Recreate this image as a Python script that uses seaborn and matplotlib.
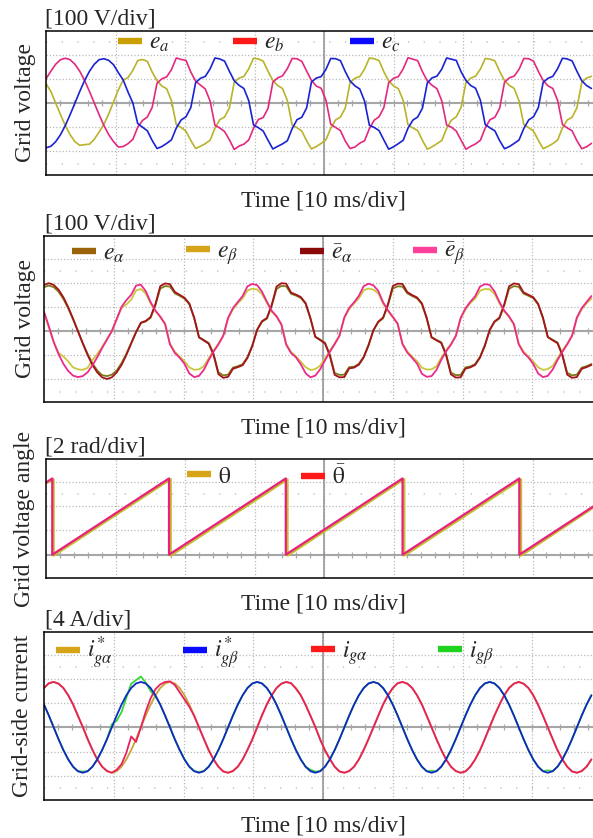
import numpy as np
import pandas as pd
import matplotlib
matplotlib.use("Agg")
import matplotlib.pyplot as plt
import seaborn as sns
from matplotlib.lines import Line2D
from matplotlib.legend import Legend

# ------------------------------------------------------------------ data
# scope sample spacing: 15 electrical degrees of a 60 Hz grid, in ms
SAMPLE_MS = 1000.0 / 60.0 / 24.0

# panel 1: grid phase voltages [V]
e_a = [80, 48, 0, -48, -93, -131, -160, -175, -172, -170, -150, -120, -88, -45, 5, 55, 95, 105, 135, 175,
       180, 172, 128, 92, 70, 59, 9, -90, -101, -117, -155, -188, -179, -168, -154, -104, -69, -58, -20, 86,
       103, 110, 141, 185, 182, 173, 131, 93, 72, 60, 10, -91, -102, -116, -156, -190, -180, -167, -152, -104,
       -70, -58, -21, 85, 102, 109, 140, 186, 183, 175, 129, 91, 71, 59, 11, -90, -103, -114, -155, -191,
       -181, -168, -155, -105, -71, -57, -18, 84, 103, 111, 140, 184, 181, 174, 130, 92, 73, 60, 9, -90,
       -102, -116, -154, -189, -179, -168, -153, -103, -70, -59, -20, 85, 103, 110]
e_b = [100, 131, 160, 179, 185, 179, 160, 131, 93, 48, 0, -48, -93, -131, -160, -182, -180, -168, -150, -100,
       -72, -58, -18, 82, 100, 108, 138, 186, 180, 176, 128, 90, 74, 58, 8, -92, -103, -118, -152, -192,
       -178, -170, -153, -104, -68, -60, -22, 86, 104, 112, 142, 184, 183, 172, 132, 93, 70, 61, 12, -88,
       -101, -114, -157, -188, -182, -166, -156, -106, -71, -57, -19, 84, 102, 109, 141, 187, 181, 175, 129, 91,
       73, 59, 9, -91, -100, -116, -154, -191, -179, -169, -154, -103, -69, -59, -21, 86, 104, 111, 139, 184,
       183, 173, 131, 93, 71, 60, 11, -89, -103, -115, -156, -189, -181, -167]
e_c = [-185, -179, -160, -131, -93, -48, 0, 48, 93, 131, 160, 179, 183, 176, 158, 125, 95, 45, 0, -85,
       -100, -115, -155, -188, -180, -167, -152, -103, -70, -57, -19, 84, 102, 110, 141, 186, 182, 173, 131, 92,
       73, 60, 10, -91, -102, -116, -154, -190, -179, -169, -156, -106, -69, -59, -20, 87, 103, 109, 139, 184,
       183, 175, 130, 91, 71, 58, 8, -92, -101, -114, -153, -191, -181, -168, -154, -104, -71, -58, -21, 83,
       104, 111, 140, 186, 181, 176, 129, 93, 72, 61, 11, -89, -103, -115, -156, -189, -180, -167, -153, -105,
       -70, -57, -19, 85, 102, 110, 142, 185, 182, 174, 131, 92, 72, 60]

# panel 2: alpha-beta voltages [V]
e_alpha = [182, 188, 182, 163, 133, 94, 49, 0, -49, -94, -133, -163, -182, -186, -180, -163, -133, -94, -49, -4,
           33, 40, 55, 107, 176, 186, 184, 156, 146, 134, 111, 53, -25, -37, -49, -94, -170, -183, -180, -151,
           -145, -137, -107, -59, 5, 39, 51, 104, 174, 187, 185, 154, 147, 137, 113, 51, -23, -35, -48, -97,
           -173, -181, -180, -149, -147, -135, -105, -56, 3, 37, 53, 107, 176, 185, 184, 156, 145, 135, 112, 52,
           -25, -36, -46, -95, -171, -182, -181, -150, -146, -136, -106, -58, 4, 38, 52, 106, 175, 186, 183, 155,
           146, 136, 110, 53, -24, -36, -47, -96, -172, -183, -180, -151, -145, -136]
e_beta = [72, 15, -45, -90, -105, -125, -150, -158, -160, -152, -120, -95, -65, -33, 0, 48, 95, 110, 130, 168, 174,
          155, 115, 82, 58, 28, -52, -85, -105, -125, -150, -160, -158, -145, -112, -80, -52, -18, 52, 90, 115,
          135, 168, 175, 172, 153, 117, 80, 59, 26, -53, -86, -104, -127, -149, -161, -157, -143, -113, -81, -51,
          -17, 54, 91, 114, 136, 169, 176, 171, 156, 114, 83, 57, 29, -51, -84, -106, -124, -151, -159, -158,
          -146, -111, -79, -53, -19, 51, 89, 116, 134, 167, 174, 173, 154, 116, 81, 58, 27, -52, -85, -105,
          -126, -150, -160, -157, -144, -112, -80, -52, -18, 53, 90, 115, 135]
e_alpha_bar = [191, 198, 191, 171, 140, 99, 51, 0, -51, -99, -140, -171, -191, -198, -191, -171, -140, -99, -51, -5,
               35, 42, 58, 112, 186, 197, 194, 162, 150, 138, 114, 56, -26, -39, -52, -98, -178, -193, -189, -156,
               -149, -141, -111, -62, 6, 41, 54, 108, 184, 198, 196, 159, 151, 141, 116, 54, -24, -37, -51, -101,
               -181, -191, -190, -154, -151, -139, -109, -59, 4, 39, 56, 111, 186, 196, 195, 161, 149, 139, 115, 55,
               -26, -38, -49, -99, -179, -192, -191, -155, -150, -140, -110, -61, 5, 40, 55, 110, 185, 197, 194, 160,
               150, 140, 113, 56, -25, -38, -50, -100, -180, -193, -190, -156, -149, -140]
e_beta_bar = [80, 20, -45, -95, -135, -165, -184, -190, -186, -170, -142, -108, -70, -35, 0, 50, 100, 128, 150, 188, 192,
              165, 120, 85, 60, 30, -55, -90, -110, -135, -175, -190, -185, -160, -120, -85, -55, -20, 55, 95, 120,
              145, 185, 195, 190, 163, 122, 84, 62, 28, -56, -91, -108, -137, -174, -191, -184, -158, -121, -86, -54,
              -19, 57, 96, 119, 146, 186, 196, 189, 166, 119, 86, 59, 31, -54, -89, -111, -134, -176, -189, -186,
              -161, -119, -84, -56, -21, 54, 94, 121, 144, 184, 194, 191, 164, 121, 85, 61, 29, -55, -90, -109,
              -136, -175, -190, -185, -159, -120, -86, -55, -20, 56, 95, 120, 145]

# panel 3: grid voltage angle [rad]
theta_t = [0.0, 1.1, 1.1, 17.95, 17.95, 34.75, 34.75, 51.55, 51.55, 68.35, 68.35, 78.7]
theta = [5.88, 6.2, -0.08, 6.22, -0.08, 6.2, -0.08, 6.22, -0.08, 6.2, -0.08, 3.85]
theta_bar_t = [0.0, 0.9, 0.9, 17.7, 17.7, 34.5, 34.5, 51.3, 51.3, 68.1, 68.1, 78.7]
theta_bar = [5.94, 6.28, 0.0, 6.28, 0.0, 6.28, 0.0, 6.28, 0.0, 6.28, 0.0, 3.96]

# panel 4: grid-side currents [A]
i_ga_ref = [6.5, 7.25, 7.5, 7.25, 6.5, 5.3, 3.75, 1.95, 0.0, -1.95, -3.75, -5.3, -6.5, -7.25, -7.5, -7.25, -6.5, -5.3, -3.75, -1.95, 0.0, 1.95, 3.75, 5.3,
            6.5, 7.25, 7.5, 7.25, 6.5, 5.3, 3.75, 1.95, 0.0, -1.95, -3.75, -5.3, -6.5, -7.25, -7.5, -7.25, -6.5, -5.3, -3.75, -1.95, 0.0, 1.95, 3.75, 5.3,
            6.5, 7.25, 7.5, 7.25, 6.5, 5.3, 3.75, 1.95, 0.0, -1.95, -3.75, -5.3, -6.5, -7.25, -7.5, -7.25, -6.5, -5.3, -3.75, -1.95, 0.0, 1.95, 3.75, 5.3,
            6.5, 7.25, 7.5, 7.25, 6.5, 5.3, 3.75, 1.95, 0.0, -1.95, -3.75, -5.3, -6.5, -7.25, -7.5, -7.25, -6.5, -5.3, -3.75, -1.95, 0.0, 1.95, 3.75, 5.3,
            6.5, 7.25, 7.5, 7.25, 6.5, 5.3, 3.75, 1.95, 0.0, -1.95, -3.75, -5.3, -6.5, -7.25, -7.5, -7.25, -6.5, -5.3]
i_gb_ref = [3.75, 1.95, 0.0, -1.95, -3.75, -5.3, -6.5, -7.25, -7.5, -7.25, -6.5, -5.3, -3.75, -1.95, 0.0, 1.95, 3.75, 5.3, 6.5, 7.25, 7.5, 7.25, 6.5, 5.3,
            3.75, 1.95, 0.0, -1.95, -3.75, -5.3, -6.5, -7.25, -7.5, -7.25, -6.5, -5.3, -3.75, -1.95, 0.0, 1.95, 3.75, 5.3, 6.5, 7.25, 7.5, 7.25, 6.5, 5.3,
            3.75, 1.95, 0.0, -1.95, -3.75, -5.3, -6.5, -7.25, -7.5, -7.25, -6.5, -5.3, -3.75, -1.95, 0.0, 1.95, 3.75, 5.3, 6.5, 7.25, 7.5, 7.25, 6.5, 5.3,
            3.75, 1.95, 0.0, -1.95, -3.75, -5.3, -6.5, -7.25, -7.5, -7.25, -6.5, -5.3, -3.75, -1.95, 0.0, 1.95, 3.75, 5.3, 6.5, 7.25, 7.5, 7.25, 6.5, 5.3,
            3.75, 1.95, 0.0, -1.95, -3.75, -5.3, -6.5, -7.25, -7.5, -7.25, -6.5, -5.3, -3.75, -1.95, 0.0, 1.95, 3.75, 5.3]
i_ga = [6.5, 7.3, 7.5, 7.2, 6.5, 5.3, 3.8, 1.9, 0.1, -1.9, -3.7, -5.3, -6.5, -7.2, -7.5, -7.0, -6.1, -4.2, -1.5, -2.4, 0.0, 2.6, 4.8, 6.3,
        7.1, 7.5, 7.6, 7.0, 5.8, 4.6, 3.4, 1.9, 0.0, -1.9, -3.8, -5.3, -6.5, -7.3, -7.5, -7.2, -6.5, -5.3, -3.7, -2.0, 0.0, 2.0, 3.8, 5.3,
        6.5, 7.2, 7.5, 7.3, 6.4, 5.3, 3.7, 1.9, 0.1, -2.0, -3.8, -5.2, -6.5, -7.3, -7.5, -7.2, -6.5, -5.3, -3.7, -1.9, 0.0, 1.9, 3.8, 5.3,
        6.5, 7.3, 7.5, 7.2, 6.5, 5.3, 3.8, 1.9, 0.0, -1.9, -3.7, -5.3, -6.5, -7.2, -7.5, -7.3, -6.5, -5.3, -3.8, -1.9, 0.1, 2.0, 3.7, 5.3,
        6.5, 7.2, 7.5, 7.2, 6.5, 5.3, 3.7, 1.9, 0.0, -1.9, -3.8, -5.3, -6.5, -7.3, -7.5, -7.2, -6.5, -5.3]
i_gb = [3.75, 1.95, 0.0, -1.95, -3.75, -5.3, -6.5, -7.25, -7.3, -7.25, -6.5, -5.3, -3.75, -1.95, 0.5, 1.1, 2.5, 4.9, 7.2, 7.8, 8.4, 7.4, 6.0, 5.1,
        3.8, 1.9, 0.0, -2.0, -3.7, -5.3, -6.5, -7.2, -7.4, -7.2, -6.5, -5.3, -3.75, -1.95, 0.0, 1.95, 3.75, 5.3, 6.5, 7.25, 7.5, 7.25, 6.5, 5.3,
        3.75, 1.95, 0.0, -1.95, -3.75, -5.3, -6.5, -7.0, -7.3, -7.25, -6.5, -5.3, -3.75, -1.95, 0.0, 1.95, 3.75, 5.3, 6.5, 7.25, 7.5, 7.25, 6.5, 5.3,
        3.75, 1.95, 0.0, -1.95, -3.75, -5.3, -6.5, -7.25, -7.2, -7.25, -6.5, -5.3, -3.75, -1.95, 0.0, 1.95, 3.75, 5.3, 6.5, 7.25, 7.5, 7.25, 6.5, 5.3,
        3.75, 1.95, 0.0, -1.95, -3.75, -5.3, -6.5, -7.25, -7.1, -7.25, -6.5, -5.3, -3.75, -1.95, 0.0, 1.95, 3.75, 5.3]

# ------------------------------------------------------------------ style
sns.set_style("white")
plt.rcParams["font.family"] = ["Liberation Serif", "DejaVu Serif"]
plt.rcParams["mathtext.fontset"] = "stix"

W, H = 593, 838
FS = 17
XMAX = 78.7
fig = plt.figure(figsize=(W / 100, H / 100), dpi=100)


def make_axes(left, top, bottom):
    return fig.add_axes([left / W, 1 - bottom / H, (W - left) / W, (bottom - top) / H])


def scope_style(ax, ylim, div):
    ax.set_xlim(0, XMAX)
    ax.set_ylim(*ylim)
    ax.set_xticks(np.arange(10, 71, 10))
    lo, hi = int(np.ceil(ylim[0] / div)), int(np.floor(ylim[1] / div))
    ax.set_yticks([k * div for k in range(lo, hi + 1) if k != 0])
    ax.tick_params(axis="both", length=0, labelbottom=False, labelleft=False)
    ax.set_xlabel("")
    ax.set_ylabel("")
    ax.set_axisbelow(True)
    ax.grid(True, color="#b9b9b9", lw=0.9, ls=(0, (1, 1.6)))
    for yv in (2.5 * div, -2.5 * div):
        if ylim[0] < yv < ylim[1]:
            ax.axhline(yv, color="#c0c0c0", lw=1.1, ls=(0, (0.8, 9.5)), zorder=0.5)
    ax.axhline(0, color="#a6a6a6", lw=1.5, zorder=1)
    ax.axvline(40, color="#909090", lw=1.1, zorder=1)
    frac = (0 - ylim[0]) / (ylim[1] - ylim[0])
    sec = ax.secondary_xaxis(frac)
    sec.set_xticks(np.arange(2, 79, 2))
    sec.tick_params(direction="inout", length=5, width=0.9, color="#a6a6a6",
                    labelbottom=False, labeltop=False)
    for s in sec.spines.values():
        s.set_visible(False)
    for s in ("top", "left", "bottom"):
        ax.spines[s].set_color("black")
        ax.spines[s].set_linewidth(1.1)
    ax.spines["right"].set_visible(False)


def legend_entry(ax, color, label, x_px, y_px):
    handle = Line2D([], [], color=color, lw=4.6, solid_capstyle="butt")
    leg = Legend(ax, [handle], [label], loc="center left",
                 bbox_to_anchor=(x_px / W, 1 - y_px / H), bbox_transform=fig.transFigure,
                 frameon=False, borderpad=0, borderaxespad=0, handlelength=1.0,
                 handletextpad=0.3, fontsize=FS)
    ax.add_artist(leg)


def panel_text(ax_left, top, bottom, unit, ylab, ylab_x=25):
    fig.text(45 / W, 1 - (top - 7) / H, unit, ha="left", va="baseline", fontsize=FS)
    fig.text(323 / W, 1 - (bottom + 31) / H, "Time [10 ms/div]", ha="center", va="baseline", fontsize=FS)
    fig.text(ylab_x / W, 1 - ((top + bottom) / 2) / H, ylab, rotation=90, ha="center", va="center", fontsize=FS)


def long_frame(t, series):
    return pd.concat([pd.DataFrame({"t": t, "v": v, "trace": name}) for name, v in series.items()],
                     ignore_index=True)


# ------------------------------------------------------------------ panel 1
ax1 = make_axes(46, 31, 175)
t1 = np.arange(len(e_a)) * SAMPLE_MS
df1 = long_frame(t1, {"ea": e_a, "eb": e_b, "ec": e_c})
sns.lineplot(data=df1, x="t", y="v", hue="trace", hue_order=["ea", "eb", "ec"],
             palette={"ea": "#b9b32a", "eb": "#e4287e", "ec": "#1a22d2"},
             estimator=None, sort=False, lw=1.2, legend=False, ax=ax1)
scope_style(ax1, (-297.5, 297.5), 100)
panel_text(ax1, 31, 175, "[100 V/div]", "Grid voltage")
legend_entry(ax1, "#c9a000", "$e_a$", 118, 43.5)
legend_entry(ax1, "#ff1a1a", "$e_b$", 233, 43.5)
legend_entry(ax1, "#0a0aff", "$e_c$", 350, 43.5)

# ------------------------------------------------------------------ panel 2
ax2 = make_axes(44, 236, 402)
t2 = np.arange(len(e_alpha)) * SAMPLE_MS
df2 = long_frame(t2, {"ealpha": e_alpha, "ebeta": e_beta, "ealpha_bar": e_alpha_bar, "ebeta_bar": e_beta_bar})
sns.lineplot(data=df2, x="t", y="v", hue="trace",
             hue_order=["ealpha", "ebeta", "ealpha_bar", "ebeta_bar"],
             palette={"ealpha": "#7c7a18", "ebeta": "#c9c83a", "ealpha_bar": "#a3141c", "ebeta_bar": "#ec2a8c"},
             estimator=None, sort=False, lw=1.3, legend=False, ax=ax2)
scope_style(ax2, (-293, 393), 100)
panel_text(ax2, 236, 402, "[100 V/div]", "Grid voltage")
legend_entry(ax2, "#9c6208", r"$e_\alpha$", 72, 254)
legend_entry(ax2, "#d6a419", r"$e_\beta$", 186, 254)
legend_entry(ax2, "#8a0a0a", r"$\bar{e}_\alpha$", 300, 254)
legend_entry(ax2, "#ff3f9c", r"$\bar{e}_\beta$", 413, 254)

# ------------------------------------------------------------------ panel 3
ax3 = make_axes(46, 459, 578)
df3 = pd.concat([pd.DataFrame({"t": theta_t, "v": theta, "trace": "theta"}),
                 pd.DataFrame({"t": theta_bar_t, "v": theta_bar, "trace": "theta_bar"})],
                ignore_index=True)
sns.lineplot(data=df3, x="t", y="v", hue="trace", hue_order=["theta", "theta_bar"],
             palette={"theta": "#c2c02e", "theta_bar": "#e8207c"},
             estimator=None, sort=False, lw=1.6, legend=False, ax=ax3)
scope_style(ax3, (-1.92, 7.88), 2)
panel_text(ax3, 459, 578, "[2 rad/div]", "Grid voltage angle")
legend_entry(ax3, "#d6a419", r"$\mathrm{\theta}$", 187, 477)
legend_entry(ax3, "#ff1a1a", r"$\bar{\mathrm{\theta}}$", 301, 477)

# ------------------------------------------------------------------ panel 4
ax4 = make_axes(44, 632, 800)
t4 = np.arange(len(i_ga_ref)) * SAMPLE_MS
df4 = long_frame(t4, {"ga_ref": i_ga_ref, "gb": i_gb, "ga": i_ga, "gb_ref": i_gb_ref})
sns.lineplot(data=df4, x="t", y="v", hue="trace", hue_order=["ga_ref", "gb", "ga", "gb_ref"],
             palette={"ga_ref": "#c9a23c", "gb": "#34d834", "ga": "#e8205c", "gb_ref": "#1228c4"},
             estimator=None, sort=False, lw=1.3, legend=False, ax=ax4)
scope_style(ax4, (-12.0, 15.75), 4)
panel_text(ax4, 632, 800, "[4 A/div]", "Grid-side current", ylab_x=23)
legend_entry(ax4, "#d6a419", r"$i^{*}_{g\alpha}$", 56, 653)
legend_entry(ax4, "#0a0aff", r"$i^{*}_{g\beta}$", 183, 653)
legend_entry(ax4, "#ff1a1a", r"$i_{g\alpha}$", 311, 653)
legend_entry(ax4, "#1ed21e", r"$i_{g\beta}$", 438, 653)

fig.savefig("out.png", dpi=100)
